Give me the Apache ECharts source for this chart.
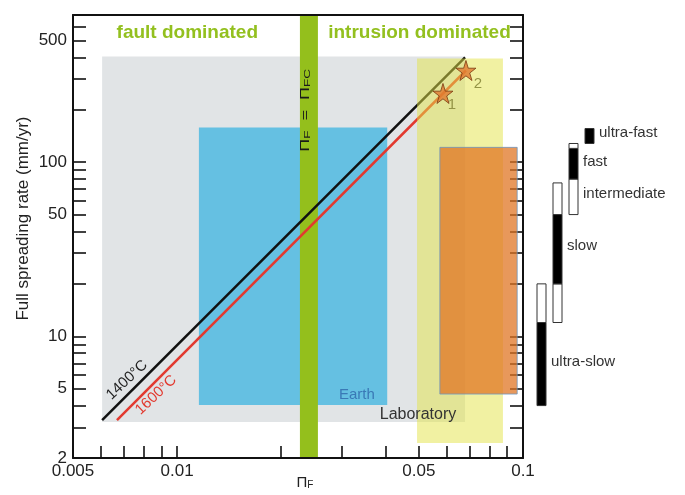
<!DOCTYPE html>
<html><head><meta charset="utf-8">
<script src="https://cdn.jsdelivr.net/npm/echarts@6/dist/echarts.min.js"></script>
<style>html,body{margin:0;padding:0;background:#fff}#c{width:685px;height:495px}</style>
</head><body><div id="c"></div>
<script>
// ---------------- data ----------------
const xTickValues = [0.005,0.006,0.007,0.008,0.009,0.01,0.02,0.03,0.04,0.05,0.06,0.07,0.08,0.09,0.1];
const xTickLabels = [0.005,0.01,0.05,0.1];
const yTickValues = [2,3,4,5,6,7,8,9,10,20,30,40,50,60,70,80,90,100,200,300,400,500,600,700];
const yTickLabels = [2,5,10,50,100,500];

// regions: [PiF min, rate min, PiF max, rate max]
const laboratoryRange = [0.00607, 3.22, 0.068, 405];
const earthRange = [0.01156, 4.03, 0.0405, 158];
const transitionRange = [0.02265, 2, 0.02553, 700];
const labIntrusionRange = [0.0494, 2.44, 0.0875, 394];
const experimentRange = [0.0575, 4.66, 0.0962, 121.6];

const line1400 = [[0.00607, 3.3], [0.068, 400]];
const line1600 = [[0.0067, 3.3], [0.0684, 336]];
const starPoints = [[0.0587, 248], [0.0684, 336]];
const starNames = ['1', '2'];
const starLabelPoints = [[0.0623, 212], [0.0741, 282]];

const noteTexts = ['fault dominated', 'intrusion dominated', 'Earth', 'Laboratory', '1400°C', '1600°C'];
const notePoints = [[0.0107, 556], [0.0502, 556], [0.0331, 4.59], [0.0497, 3.57], [0.00716, 5.61], [0.00869, 4.6]];
const transitionLabelPoint = [0.0236, 198.5];

const rateNames = ['ultra-slow', 'slow', 'intermediate', 'fast', 'ultra-fast'];
const rateColumns = [0, 1, 2, 2, 3];
const rateLabelRates = [7.1, 33, 66, 100, 147];
// [column, low, high, core(1) / transitional(0)]
const rateSegments = [[0,4,12,1],[0,12,20,0],[1,12,20,0],[1,20,50,1],[1,50,76,0],[2,50,80,0],[2,80,120,1],[2,120,128,0],[3,128,156,1]];

// ---------------- chart ----------------
const FONT = '"Liberation Sans", Arial, sans-serif';
const chart = echarts.init(document.getElementById('c'), null, {renderer: 'canvas'});

function fmt(v) { return String(+(+v).toPrecision(3)); }

function rectSeries(range, fill, z, extra) {
  return {
    type: 'custom', xAxisIndex: 0, yAxisIndex: 0, z: z, silent: true,
    data: [range],
    renderItem: function (params, api) {
      const p0 = api.coord([api.value(0), api.value(1)]);
      const p1 = api.coord([api.value(2), api.value(3)]);
      return {
        type: 'rect',
        shape: {x: Math.min(p0[0], p1[0]), y: Math.min(p0[1], p1[1]),
                width: Math.abs(p1[0] - p0[0]), height: Math.abs(p1[1] - p0[1])},
        style: Object.assign({fill: fill}, extra || {})
      };
    }
  };
}

const noteStyles = {
  'fault dominated': {fill: '#93c01f', fontSize: 19, fontWeight: 'bold', rot: 0},
  'intrusion dominated': {fill: '#93c01f', fontSize: 19, fontWeight: 'bold', rot: 0},
  'Earth': {fill: '#3a79b6', fontSize: 15, fontWeight: 'normal', rot: 0},
  'Laboratory': {fill: '#333', fontSize: 16, fontWeight: 'normal', rot: 0},
  '1400°C': {fill: '#222', fontSize: 15, fontWeight: 'normal', rot: 43},
  '1600°C': {fill: '#e2392f', fontSize: 15, fontWeight: 'normal', rot: 43}
};

const subRich = {
  p: {fontSize: 15, fontFamily: FONT, color: '#222', lineHeight: 15, verticalAlign: 'bottom'},
  s: {fontSize: 10, fontFamily: FONT, color: '#222', lineHeight: 10, verticalAlign: 'bottom'}
};

const axisLineStyle = {color: '#111', width: 2};
const tickStyle = {color: '#111', width: 1.6};

const option = {
  backgroundColor: '#fff',
  animation: false,
  grid: [
    {left: 73, right: 162, top: 15, bottom: 37, outerBoundsMode: 'none', containLabel: false},
    {left: 530, width: 150, top: 15, bottom: 37, outerBoundsMode: 'none', containLabel: false}
  ],
  xAxis: [
    {
      type: 'log', logBase: 10, min: 0.005, max: 0.1, gridIndex: 0, position: 'bottom', z: 10,
      axisLine: {onZero: false, lineStyle: axisLineStyle},
      axisTick: {inside: true, length: 12, customValues: xTickValues, lineStyle: tickStyle},
      minorTick: {show: false},
      axisLabel: {customValues: xTickLabels, formatter: fmt, fontSize: 17, color: '#222', fontFamily: FONT, margin: 5},
      splitLine: {show: false},
      name: '{p|Π}{s|F}', nameLocation: 'middle', nameGap: 17, nameMoveOverlap: false,
      nameTextStyle: {rich: subRich, padding: [0, 0, 0, 14]}
    },
    {
      type: 'log', logBase: 10, min: 0.005, max: 0.1, gridIndex: 0, position: 'top', z: 10,
      axisLine: {onZero: false, lineStyle: axisLineStyle},
      axisTick: {show: false}, axisLabel: {show: false}, splitLine: {show: false}
    },
    {type: 'value', gridIndex: 1, min: 0, max: 150, show: false}
  ],
  yAxis: [
    {
      type: 'log', logBase: 10, min: 2, max: 700, gridIndex: 0, position: 'left',
      axisLine: {onZero: false, lineStyle: axisLineStyle},
      axisTick: {inside: true, length: 13, customValues: yTickValues, lineStyle: tickStyle},
      minorTick: {show: false},
      axisLabel: {customValues: yTickLabels, formatter: fmt, fontSize: 17, color: '#222', fontFamily: FONT, margin: 6},
      splitLine: {show: false},
      name: 'Full spreading rate (mm/yr)', nameLocation: 'middle', nameGap: 41, nameMoveOverlap: false,
      nameTextStyle: {fontSize: 17, color: '#222', fontFamily: FONT, padding: [0, 0, 0, 36]}
    },
    {
      type: 'log', logBase: 10, min: 2, max: 700, gridIndex: 0, position: 'right',
      axisLine: {onZero: false, lineStyle: axisLineStyle},
      axisTick: {inside: true, length: 13, customValues: yTickValues, lineStyle: tickStyle},
      minorTick: {show: false},
      axisLabel: {show: false}, splitLine: {show: false}
    },
    {type: 'log', logBase: 10, min: 2, max: 700, gridIndex: 1, show: false}
  ],
  series: [
    rectSeries(laboratoryRange, '#e1e4e6', 1),
    rectSeries(earthRange, '#65c0e2', 2),
    rectSeries(transitionRange, '#94bf1c', 3),
    {
      type: 'line', xAxisIndex: 0, yAxisIndex: 0, z: 4, data: line1400, showSymbol: false, silent: true,
      lineStyle: {color: '#111', width: 2.5}
    },
    {
      type: 'line', xAxisIndex: 0, yAxisIndex: 0, z: 4, data: line1600, showSymbol: false, silent: true,
      lineStyle: {color: '#e2392f', width: 2.5}
    },
    {
      type: 'custom', xAxisIndex: 0, yAxisIndex: 0, z: 5, silent: true,
      data: starLabelPoints.map((p, i) => [p[0], p[1], i]),
      renderItem: function (params, api) {
        const p = api.coord([api.value(0), api.value(1)]);
        return {type: 'text', x: p[0], y: p[1],
          style: {text: starNames[api.value(2)], fill: '#444', fontSize: 15, fontFamily: FONT, align: 'center', verticalAlign: 'middle'}};
      }
    },
    rectSeries(labIntrusionRange, 'rgba(228,228,70,0.5)', 6),
    {
      type: 'scatter', xAxisIndex: 0, yAxisIndex: 0, z: 6.5, data: starPoints, silent: true,
      symbol: 'path://M50,0 L61,35 L98,35 L68,57 L79,91 L50,70 L21,91 L32,57 L2,35 L39,35 Z',
      symbolSize: 20,
      itemStyle: {color: '#e0782e', borderColor: '#7a3a12', borderWidth: 1}
    },
    rectSeries(experimentRange, 'rgba(224,116,34,0.74)', 7, {stroke: 'rgba(110,150,190,0.8)', lineWidth: 1}),
    {
      type: 'custom', xAxisIndex: 0, yAxisIndex: 0, z: 8, silent: true,
      data: notePoints.map((p, i) => [p[0], p[1], i]),
      renderItem: function (params, api) {
        const p = api.coord([api.value(0), api.value(1)]);
        const t = noteTexts[api.value(2)];
        const s = noteStyles[t];
        return {type: 'text', x: p[0], y: p[1], rotation: s.rot * Math.PI / 180,
          style: {text: t, fill: s.fill, fontSize: s.fontSize, fontWeight: s.fontWeight, fontFamily: FONT,
                  align: 'center', verticalAlign: 'middle'}};
      }
    },
    {
      type: 'custom', xAxisIndex: 0, yAxisIndex: 0, z: 8, silent: true,
      data: [transitionLabelPoint],
      renderItem: function (params, api) {
        const p = api.coord([api.value(0), api.value(1)]);
        return {type: 'text', x: p[0], y: p[1], rotation: Math.PI / 2, scaleX: 1.5,
          style: {text: '{p|Π}{s|F}{p|  =  Π}{s|FC}', align: 'center', verticalAlign: 'middle', rich: {
            p: {fontSize: 12, fontFamily: FONT, fill: '#1a1a1a', lineHeight: 12, verticalAlign: 'bottom'},
            s: {fontSize: 9, fontFamily: FONT, fill: '#1a1a1a', lineHeight: 9, verticalAlign: 'bottom'}
          }}};
      }
    },
    {
      type: 'custom', xAxisIndex: 2, yAxisIndex: 2, z: 3, silent: true,
      data: rateSegments,
      renderItem: function (params, api) {
        const col = api.value(0);
        const left = 7 + 16 * col;
        const p0 = api.coord([left, api.value(2)]);
        const p1 = api.coord([left + 9, api.value(1)]);
        return {type: 'rect',
          shape: {x: p0[0], y: p0[1], width: p1[0] - p0[0], height: p1[1] - p0[1]},
          style: {fill: api.value(3) ? '#000' : '#fff', stroke: '#333', lineWidth: 1}};
      }
    },
    {
      type: 'custom', xAxisIndex: 2, yAxisIndex: 2, z: 3, silent: true,
      data: rateNames.map((n, i) => [rateColumns[i], rateLabelRates[i], i]),
      renderItem: function (params, api) {
        const p = api.coord([7 + 16 * api.value(0) + 9 + 5, api.value(1)]);
        return {type: 'text', x: p[0], y: p[1],
          style: {text: rateNames[api.value(2)], fill: '#333', fontSize: 15, fontFamily: FONT, align: 'left', verticalAlign: 'middle'}};
      }
    }
  ]
};
chart.setOption(option);
</script>
</body></html>
